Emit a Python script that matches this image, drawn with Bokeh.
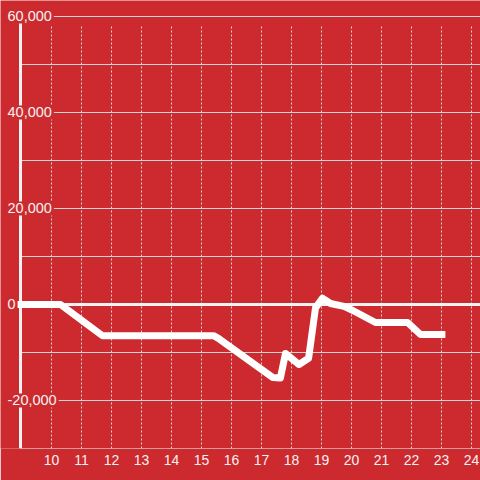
from bokeh.plotting import figure
from bokeh.models import Range1d, FixedTicker, Label
from bokeh.embed import file_html
from bokeh.resources import INLINE

# data
hours = [8.85, 10.3, 11.7, 15.4, 15.55, 17.37, 17.63, 17.8, 18.25, 18.57, 18.8,
         19.03, 19.3, 19.75, 20.03, 20.8, 21.87, 22.3, 23.13]
values = [0, 0, -6500, -6500, -7000, -15200, -15300, -10200, -12500, -11200, -700,
          1300, 200, -400, -1200, -3750, -3750, -6250, -6250]
x_ticks = list(range(10, 25))
y_ticks = [60000, 40000, 20000, 0, -20000]
y_grid = list(range(-30000, 60001, 10000))

BG = "#cc2a2e"
FG = "#f2f2f2"
GRID = "#d6d6d6"
FONT = "Liberation Sans"

x_start, x_end = 8.3, 24.3
axis_x = 8.967
label_x = 8.467
y_start, y_end = -30000, 63333
grid_top = 58333

p = figure(width=480, height=480, output_backend="svg", toolbar_location=None,
           x_range=Range1d(x_start, x_end), y_range=Range1d(y_start, y_end),
           min_border_left=0, min_border_right=0, min_border_top=0, min_border_bottom=32)
p.background_fill_color = BG
p.border_fill_color = BG
p.outline_line_color = None

p.xaxis.ticker = FixedTicker(ticks=x_ticks)
p.xaxis.axis_line_color = None
p.xaxis.major_tick_line_color = None
p.xaxis.minor_tick_line_color = None
p.xaxis.major_label_text_color = FG
p.xaxis.major_label_text_font = FONT
p.xaxis.major_label_text_font_size = "14px"
p.xaxis.major_label_standoff = 0
p.yaxis.visible = False
p.xgrid.visible = False
p.ygrid.visible = False

# vertical dotted grid lines
p.segment(x0=x_ticks, y0=[y_start] * len(x_ticks), x1=x_ticks, y1=[grid_top] * len(x_ticks),
          line_color=GRID, line_width=1, line_dash="2 2")
# horizontal grid lines starting at the axis
p.segment(x0=[axis_x] * len(y_grid), y0=y_grid, x1=[x_end] * len(y_grid), y1=y_grid,
          line_color=GRID, line_width=1)

# zero line and left axis line
p.segment(x0=[axis_x], y0=[0], x1=[x_end], y1=[0], line_color=FG, line_width=3)
p.segment(x0=[axis_x], y0=[y_start], x1=[axis_x], y1=[y_ticks[0]], line_color=FG, line_width=3)

p.line(hours, values, line_color="white", line_width=7, line_join="round")

for v in y_ticks:
    p.add_layout(Label(x=label_x, y=v, text=f"{v:,}", text_align="left", text_baseline="middle",
                       text_color=FG, text_font=FONT, text_font_size="14.5px",
                       background_fill_color=BG, padding=2))

open("out.html", "w").write(file_html(p, INLINE))
